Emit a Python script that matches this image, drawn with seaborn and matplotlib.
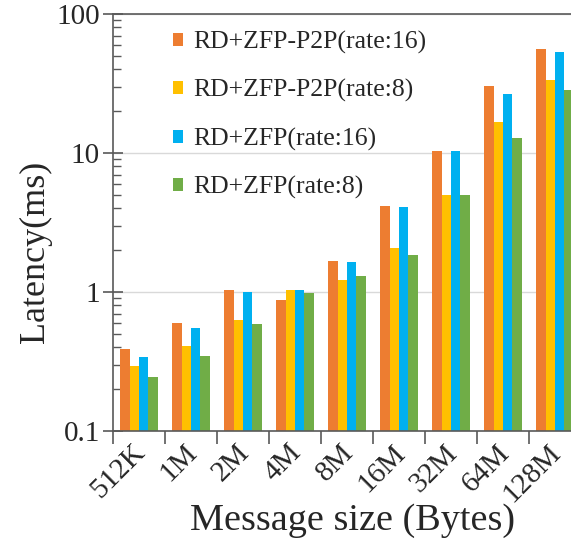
import numpy as np
import pandas as pd
import matplotlib
matplotlib.use("Agg")
import matplotlib.pyplot as plt
import matplotlib.transforms as mtransforms
from matplotlib.ticker import FixedLocator, LogLocator, NullFormatter, FixedFormatter
import seaborn as sns

sizes = ["512K", "1M", "2M", "4M", "8M", "16M", "32M", "64M", "128M"]
series = ["RD+ZFP-P2P(rate:16)", "RD+ZFP-P2P(rate:8)", "RD+ZFP(rate:16)", "RD+ZFP(rate:8)"]
p2p_rate16 = [0.39, 0.60, 1.03, 0.88, 1.67, 4.14, 10.3, 30.2, 55.7]
p2p_rate8 = [0.294, 0.407, 0.63, 1.03, 1.21, 2.08, 4.99, 16.7, 33.5]
zfp_rate16 = [0.343, 0.554, 1.00, 1.03, 1.64, 4.09, 10.3, 26.4, 53.3]
zfp_rate8 = [0.243, 0.348, 0.59, 0.99, 1.30, 1.86, 4.96, 12.9, 28.4]
colors = ["#ED7D31", "#FFC000", "#00B0F0", "#70AD47"]
y_ticks = [0.1, 1, 10, 100]
y_tick_labels = ["0.1", "1", "10", "100"]

df = pd.DataFrame({
    "size": sizes * 4,
    "latency": p2p_rate16 + p2p_rate8 + zfp_rate16 + zfp_rate8,
    "method": [s for s in series for _ in sizes],
})

sns.set_theme(style="white")
serif = ["Liberation Serif", "DejaVu Serif"]
plt.rcParams["font.family"] = serif

fig = plt.figure(figsize=(5.71, 5.46), dpi=100)
ax = fig.add_axes([113 / 571, 1 - 431 / 546, 468 / 571, 417 / 546])
ax.set_yscale("log")

sns.barplot(data=df, x="size", y="latency", hue="method", order=sizes,
            hue_order=series, palette=colors, saturation=1, width=0.73,
            gap=0, linewidth=0, errorbar=None, ax=ax)

ax.set_ylim(0.1, 100)
ax.set_xlim(-0.5, len(sizes) - 0.5)

# y axis: decade ticks crossing the spine, minor ticks pointing in
ax.yaxis.set_major_locator(FixedLocator(y_ticks))
ax.yaxis.set_major_formatter(FixedFormatter(y_tick_labels))
ax.yaxis.set_minor_locator(LogLocator(base=10, subs=np.arange(2, 10)))
ax.yaxis.set_minor_formatter(NullFormatter())
ax.tick_params(axis="y", which="major", direction="inout", length=15, width=1.2,
               color="#595959", labelsize=21, pad=2, left=True)
ax.tick_params(axis="y", which="minor", direction="in", length=6, width=1.0,
               color="#595959", left=True)
ax.yaxis.grid(True, which="major", color="#D9D9D9", linewidth=1.0)
ax.set_axisbelow(True)

# x axis: tick marks between groups, labels centred under groups
ax.xaxis.set_major_locator(FixedLocator(np.arange(-0.5, len(sizes), 1.0)))
ax.xaxis.set_major_formatter(NullFormatter())
ax.xaxis.set_minor_locator(FixedLocator(np.arange(len(sizes))))
ax.xaxis.set_minor_formatter(FixedFormatter(sizes))
ax.tick_params(axis="x", which="major", direction="out", length=9, width=1.2,
               color="#595959", bottom=True)
ax.tick_params(axis="x", which="minor", length=0, labelsize=21, pad=4)
shift = mtransforms.ScaledTranslation(-7 / 100, -3 / 100, fig.dpi_scale_trans)
for lbl in ax.get_xticklabels(minor=True):
    lbl.set_rotation(45)
    lbl.set_ha("right")
    lbl.set_va("top")
    lbl.set_rotation_mode("anchor")
    lbl.set_family(serif)
    lbl.set_transform(lbl.get_transform() + shift)

for side in ["left", "bottom", "top"]:
    ax.spines[side].set_visible(True)
    ax.spines[side].set_color("#595959")
    ax.spines[side].set_linewidth(1.2)
ax.spines["right"].set_visible(False)

ax.set_ylabel("Latency(ms)", fontsize=26, va="center", family=serif)
ax.yaxis.set_label_coords((35 - 113) / 468, (431 - 252) / 417)
ax.set_xlabel("Message size (Bytes)", fontsize=27.5, va="center", family=serif)
ax.xaxis.set_label_coords((353 - 113) / 468, (431 - 521) / 417)

leg = ax.legend(loc="upper left", bbox_to_anchor=((173 - 113) / 468, (431 - 31) / 417),
                frameon=False, prop={"family": serif, "size": 18.5},
                handlelength=0.4, handleheight=0.4,
                handletextpad=0.4, labelspacing=0.98, borderpad=0, borderaxespad=0)

fig.savefig("out.png", dpi=100)
